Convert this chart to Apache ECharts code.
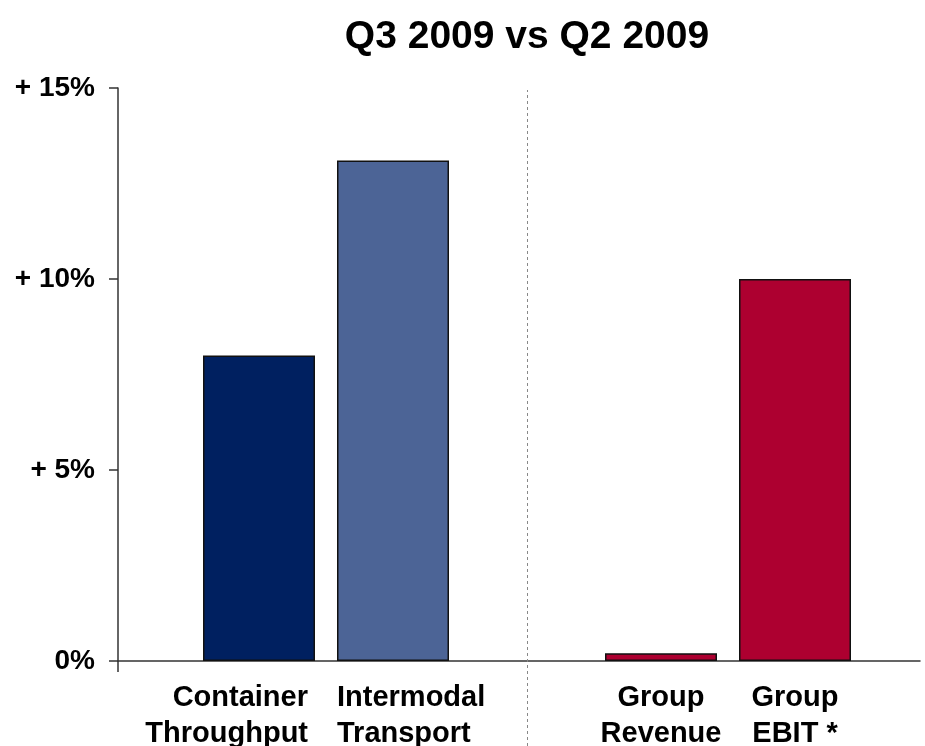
<!DOCTYPE html>
<html>
<head>
<meta charset="utf-8">
<script src="https://cdn.jsdelivr.net/npm/echarts@6/dist/echarts.min.js"></script>
<style>html,body{margin:0;padding:0;background:#fff}#c{width:925px;height:746px}</style>
</head>
<body>
<div id="c"></div>
<script>
const chartTitle = 'Q3 2009 vs Q2 2009';
const categories = ['Container\nThroughput', 'Intermodal\nTransport', '', 'Group\nRevenue', 'Group\nEBIT *'];
const changePct = [8.0, 13.1, null, 0.2, 10.0];
const yTickValues = [0, 5, 10, 15];
const yTickLabels = ['0%', '+ 5%', '+ 10%', '+ 15%'];
const dividerCategory = '';

// styles (kept separate from data)
const barColors = ['#002060', '#4C6496', null, '#AD0030', '#AD0030'];
const labelAlign = [
  { width: 98, align: 'right' },
  { width: 112, align: 'left' },
  { width: 10, align: 'center' },
  { width: 10, align: 'center' },
  { width: 10, align: 'center' }
];
const FONT = '"Liberation Sans", Arial, Helvetica, sans-serif';

const gridTop = 88, gridBottom = 85;
const yMax = 15;

const rich = {};
labelAlign.forEach((s, i) => {
  rich['s' + i] = Object.assign({ fontSize: 29, fontWeight: 'bold', fontFamily: FONT, color: '#000', lineHeight: 36 }, s);
});

const barData = changePct.map((v, i) => v == null ? '-' : {
  value: v,
  itemStyle: { color: barColors[i] }
});

const hiddenAxis = {
  axisLine: { show: false }, axisTick: { show: false }, axisLabel: { show: false }, splitLine: { show: false }
};

const option = {
  animation: false,
  backgroundColor: '#fff',
  title: {
    text: chartTitle,
    left: 522, top: 13, textAlign: 'center',
    textStyle: { fontSize: 39, fontWeight: 'bold', fontFamily: FONT, color: '#000' }
  },
  grid: [
    // 0: visible axes frame
    { left: 118, right: 5, top: gridTop, bottom: gridBottom, outerBoundsMode: 'none', containLabel: false },
    // 1: bars + category labels
    { left: 192, right: 63, top: gridTop, bottom: gridBottom, outerBoundsMode: 'none', containLabel: false },
    // 2: divider running to the page bottom
    { left: 192, right: 63, top: gridTop + 2, bottom: 0, outerBoundsMode: 'none', containLabel: false }
  ],
  xAxis: [
    Object.assign({}, hiddenAxis, {
      gridIndex: 0, type: 'value', min: 0, max: 1,
      axisLine: { show: true, lineStyle: { color: '#333', width: 1.5 } },
      axisTick: { show: true, customValues: [0], length: 11, lineStyle: { color: '#333', width: 1.5 } }
    }),
    {
      gridIndex: 1, type: 'category', data: categories,
      axisLine: { show: false }, axisTick: { show: false }, splitLine: { show: false },
      axisLabel: {
        interval: 0, margin: 19,
        fontSize: 29, fontWeight: 'bold', fontFamily: FONT, color: '#000', lineHeight: 36,
        formatter: (value, index) => value === '' ? '' :
          value.split('\n').map(l => '{s' + index + '|' + l + '}').join('\n'),
        rich: rich
      }
    },
    Object.assign({}, hiddenAxis, { gridIndex: 2, type: 'category', data: categories })
  ],
  yAxis: [
    {
      gridIndex: 0, type: 'value', min: 0, max: yMax, interval: 5,
      axisLine: { show: true, lineStyle: { color: '#333', width: 1.5 } },
      axisTick: { show: true, length: 9, lineStyle: { color: '#333', width: 1.5 } },
      splitLine: { show: false },
      axisLabel: {
        margin: 23, fontSize: 28, fontWeight: 'bold', fontFamily: FONT, color: '#000',
        formatter: v => yTickLabels[yTickValues.indexOf(v)]
      }
    },
    Object.assign({}, hiddenAxis, { gridIndex: 1, type: 'value', min: 0, max: yMax }),
    Object.assign({}, hiddenAxis, { gridIndex: 2, type: 'value', min: 0, max: 1 })
  ],
  series: [
    {
      type: 'bar', xAxisIndex: 1, yAxisIndex: 1,
      data: barData, barWidth: 112,
      itemStyle: { borderColor: '#111', borderWidth: 1.5 }
    },
    {
      type: 'bar', xAxisIndex: 2, yAxisIndex: 2,
      data: categories.map(() => '-'),
      markLine: {
        silent: true, symbol: 'none', label: { show: false },
        lineStyle: { type: [3, 3], color: '#888', width: 1 },
        data: [{ xAxis: dividerCategory }]
      }
    }
  ]
};

const chart = echarts.init(document.getElementById('c'), null, { renderer: 'canvas' });
chart.setOption(option);
</script>
</body>
</html>
